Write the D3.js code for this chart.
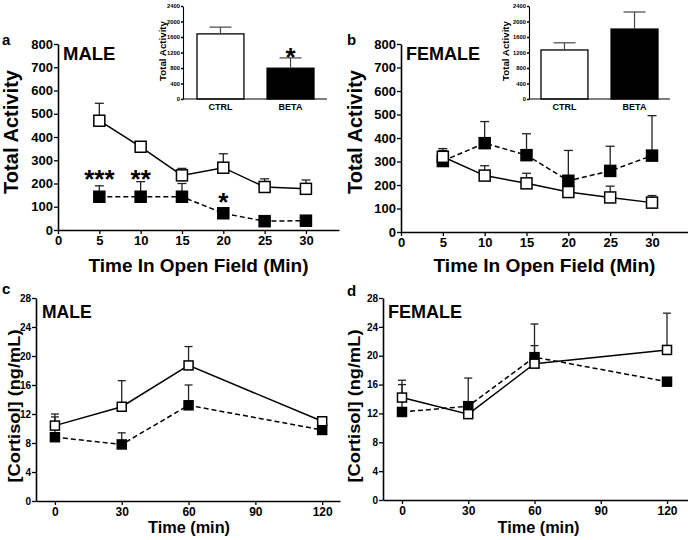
<!DOCTYPE html>
<html><head><meta charset="utf-8">
<script src="https://cdn.jsdelivr.net/npm/d3@7"></script>
<style>
body{margin:0;background:#fff;}
text{font-family:"Liberation Sans",Arial,sans-serif;font-weight:bold;fill:#000;}
</style></head>
<body><svg id="c" width="688" height="540"></svg>
<script>
// ---------- data ----------
const openFieldTimes = [5,10,15,20,25,30];
const activityTicks = [0,100,200,300,400,500,600,700,800];
const openFieldTicks = [0,5,10,15,20,25,30];

const maleCtrlAct    = [470,358,235,268,185,177];
const maleCtrlActErr = [75,12,30,60,35,38];
const maleBetaAct    = [143,143,143,72,38,40];
const maleBetaActErr = [47,65,57,23,0,0];

const femCtrlAct     = [320,240,207,170,147,125];
const femCtrlActErr  = [35,42,43,8,48,30];
const femBetaAct     = [302,378,327,218,260,325];
const femBetaActErr  = [45,92,91,129,105,170];

const maleSig = [{x:5,y:245,t:"***"},{x:10,y:245,t:"**"},{x:20,y:146,t:"*"}];

const groups = ["CTRL","BETA"];
const insetTicks = [0,400,800,1200,1600,2000,2400];
const maleTotal = [1680,795];
const maleTotalErr = [175,265];
const femTotal = [1265,1805];
const femTotalErr = [185,440];
const maleTotalSig = [{g:"BETA",y:1240,t:"*"}];

const cortTimes = [0,30,60,120];
const cortTicks = [0,4,8,12,16,20,24,28];
const cortTimeTicks = [0,30,60,90,120];
const maleCtrlCort    = [10.4,13.0,18.7,11.0];
const maleCtrlCortErr = [1.6,3.6,2.6,0.5];
const maleBetaCort    = [8.8,7.8,13.2,9.8];
const maleBetaCortErr = [2.8,1.6,2.8,0];
const femCtrlCort     = [14.2,11.9,18.9,20.8];
const femCtrlCortErr  = [1.8,0,2.5,5.1];
const femBetaCort     = [12.2,13.0,19.8,16.4];
const femBetaCortErr  = [4.4,3.9,4.6,0];

// ---------- drawing ----------
const svg = d3.select("#c");

function styleAxis(g, fs){
  g.select(".domain").attr("stroke","#000").attr("stroke-width",1.6);
  g.selectAll(".tick line").attr("stroke","#000").attr("stroke-width",1.3);
  g.selectAll(".tick text").style("font-size",fs+"px").style("font-family",'"Liberation Sans",Arial,sans-serif').style("font-weight","bold").attr("fill","#000");
}

function linePanel(o){
  const g = svg.append("g");
  const x = d3.scaleLinear().domain(o.xd).range(o.xr);
  const y = d3.scaleLinear().domain(o.yd).range(o.yr);
  const ax = g.append("g").attr("transform",`translate(0,${o.yr[0]})`)
    .call(d3.axisBottom(x).tickValues(o.xt).tickSize(4).tickSizeOuter(0).tickPadding(2));
  styleAxis(ax,o.xfs);
  const ay = g.append("g").attr("transform",`translate(${o.xr[0]},0)`)
    .call(d3.axisLeft(y).tickValues(o.yt).tickSize(4).tickSizeOuter(0).tickPadding(1));
  styleAxis(ay,o.yfs);

  const series = [
    {v:o.ctrl,e:o.ctrlErr,fill:"#fff",dash:null},
    {v:o.beta,e:o.betaErr,fill:"#000",dash:"5,3"}
  ];
  series.forEach(s=>{
    s.v.forEach((v,i)=>{
      if(!s.e[i]) return;
      const xx=x(o.xs[i]);
      g.append("line").attr("x1",xx).attr("x2",xx).attr("y1",y(v)).attr("y2",y(v+s.e[i]))
        .attr("stroke","#222").attr("stroke-width",1.3);
      g.append("line").attr("x1",xx-o.cap/2).attr("x2",xx+o.cap/2).attr("y1",y(v+s.e[i])).attr("y2",y(v+s.e[i]))
        .attr("stroke","#222").attr("stroke-width",1.3);
    });
  });
  series.forEach(s=>{
    g.append("path").datum(s.v.map((v,i)=>[o.xs[i],v]))
      .attr("d",d3.line().x(d=>x(d[0])).y(d=>y(d[1])))
      .attr("fill","none").attr("stroke","#000").attr("stroke-width",1.5)
      .attr("stroke-dasharray",s.dash);
  });
  [series[1],series[0]].forEach(s=>{
    g.selectAll(null).data(s.v.map((v,i)=>[o.xs[i],v])).enter().append("rect")
      .attr("x",d=>x(d[0])-o.ms/2).attr("y",d=>y(d[1])-o.ms/2)
      .attr("width",o.ms).attr("height",o.ms)
      .attr("fill",s.fill).attr("stroke","#000").attr("stroke-width",1.5);
  });
  if(o.sig){
    o.sig.forEach(s=>{
      g.append("text").attr("x",x(s.x)).attr("y",y(s.y)+0.57*o.sigfs).attr("text-anchor","middle")
        .style("font-size",o.sigfs+"px").text(s.t);
    });
  }
  g.append("text").attr("x",o.sexX).attr("y",o.sexY).style("font-size",o.sexFs+"px").text(o.sex);
  g.append("text").attr("x",o.letX).attr("y",o.letY).style("font-size","15px").text(o.letter);
  g.append("text").attr("x",(o.xr[0]+o.xr[1])/2+o.xtOff).attr("y",o.xtY).attr("text-anchor","middle")
    .style("font-size",o.xtFs+"px").attr("textLength",o.xtLen).attr("lengthAdjust","spacingAndGlyphs").text(o.xtitle);
  g.append("text").attr("transform",`translate(${o.ytX},${o.ytYc}) rotate(-90)`).attr("text-anchor","middle")
    .style("font-size",o.ytFs+"px").attr("textLength",o.ytLen).attr("lengthAdjust","spacingAndGlyphs").text(o.ytitle);
}

function inset(o){
  const g = svg.append("g");
  const x = d3.scaleBand().domain(groups).range(o.xr).paddingInner(0.33).paddingOuter(0.1);
  const y = d3.scaleLinear().domain([0,2400]).range([99,6]);
  g.selectAll(null).data(o.v).enter().append("rect")
    .attr("x",(d,i)=>x(groups[i])).attr("width",x.bandwidth())
    .attr("y",d=>y(d)).attr("height",d=>y(0)-y(d))
    .attr("fill",(d,i)=>i?"#000":"#fff").attr("stroke","#000").attr("stroke-width",1.3);
  o.v.forEach((v,i)=>{
    const xx=x(groups[i])+x.bandwidth()/2;
    g.append("line").attr("x1",xx).attr("x2",xx).attr("y1",y(v)).attr("y2",y(v+o.e[i])).attr("stroke","#444").attr("stroke-width",1.2);
    g.append("line").attr("x1",xx-11).attr("x2",xx+11).attr("y1",y(v+o.e[i])).attr("y2",y(v+o.e[i])).attr("stroke","#444").attr("stroke-width",1.2);
  });
  const ay = g.append("g").attr("transform",`translate(${o.ax},0)`)
    .call(d3.axisLeft(y).tickValues(insetTicks).tickFormat(d3.format("d")).tickSize(2).tickSizeOuter(0).tickPadding(1));
  styleAxis(ay,5.8);
  ay.select(".domain").attr("stroke-width",1.1);
  ay.selectAll(".tick text").attr("fill","#333");
  g.append("line").attr("x1",o.ax).attr("x2",o.axEnd).attr("y1",y(0)).attr("y2",y(0)).attr("stroke","#000").attr("stroke-width",1.1);
  groups.forEach(gr=>{
    g.append("text").attr("x",x(gr)+x.bandwidth()/2).attr("y",110).attr("text-anchor","middle").style("font-size","9px").text(gr);
  });
  g.append("text").attr("transform",`translate(${o.tX},51) rotate(-90)`).attr("text-anchor","middle")
    .style("font-size","9px").attr("textLength",60).attr("lengthAdjust","spacingAndGlyphs").text("Total Activity");
  if(o.sig){
    o.sig.forEach(s=>{
      g.append("text").attr("x",x(s.g)+x.bandwidth()/2).attr("y",y(s.y)+0.57*26).attr("text-anchor","middle")
        .style("font-size","26px").text(s.t);
    });
  }
}

linePanel({xd:[0,34],xr:[58,339],yd:[0,800],yr:[230,44],xt:openFieldTicks,yt:activityTicks,xs:openFieldTimes,
  ctrl:maleCtrlAct,ctrlErr:maleCtrlActErr,beta:maleBetaAct,betaErr:maleBetaActErr,cap:9,ms:11,xfs:13,yfs:13,
  sig:maleSig,sigfs:26,sex:"MALE",sexX:63,sexY:60,sexFs:18.5,letter:"a",letX:2,letY:45,
  xtitle:"Time In Open Field (Min)",xtOff:0,xtY:272,xtFs:19,xtLen:220,
  ytitle:"Total Activity",ytX:18,ytYc:132,ytFs:20,ytLen:124});

linePanel({xd:[0,34.3],xr:[401,688],yd:[0,800],yr:[232,44],xt:openFieldTicks,yt:activityTicks,xs:openFieldTimes,
  ctrl:femCtrlAct,ctrlErr:femCtrlActErr,beta:femBetaAct,betaErr:femBetaActErr,cap:9,ms:11,xfs:13,yfs:13,
  sex:"FEMALE",sexX:406,sexY:60,sexFs:18,letter:"b",letX:347,letY:45,
  xtitle:"Time In Open Field (Min)",xtOff:0,xtY:272,xtFs:19,xtLen:222,
  ytitle:"Total Activity",ytX:362,ytYc:132,ytFs:20,ytLen:124});

linePanel({xd:[-8.5,128],xr:[36,340],yd:[0,28],yr:[501,298],xt:cortTimeTicks,yt:cortTicks,xs:cortTimes,
  ctrl:maleCtrlCort,ctrlErr:maleCtrlCortErr,beta:maleBetaCort,betaErr:maleBetaCortErr,cap:8,ms:9,xfs:12,yfs:10,
  sex:"MALE",sexX:42,sexY:318,sexFs:17.5,letter:"c",letX:2,letY:294,
  xtitle:"Time (min)",xtOff:1,xtY:533,xtFs:16,xtLen:82,
  ytitle:"[Cortisol] (ng/mL)",ytX:20,ytYc:406,ytFs:16,ytLen:153});

linePanel({xd:[-8.6,129.5],xr:[383,688],yd:[0,28],yr:[500,298],xt:cortTimeTicks,yt:cortTicks,xs:cortTimes,
  ctrl:femCtrlCort,ctrlErr:femCtrlCortErr,beta:femBetaCort,betaErr:femBetaCortErr,cap:8,ms:9,xfs:12,yfs:10,
  sex:"FEMALE",sexX:388,sexY:318,sexFs:18,letter:"d",letX:347,letY:296,
  xtitle:"Time (min)",xtOff:3,xtY:533,xtFs:16,xtLen:82,
  ytitle:"[Cortisol] (ng/mL)",ytX:360,ytYc:406,ytFs:16,ytLen:153});

inset({xr:[190,321],ax:183,axEnd:327,v:maleTotal,e:maleTotalErr,tX:166,sig:maleTotalSig});
inset({xr:[534,665],ax:529,axEnd:670,v:femTotal,e:femTotalErr,tX:509});
</script></body></html>
